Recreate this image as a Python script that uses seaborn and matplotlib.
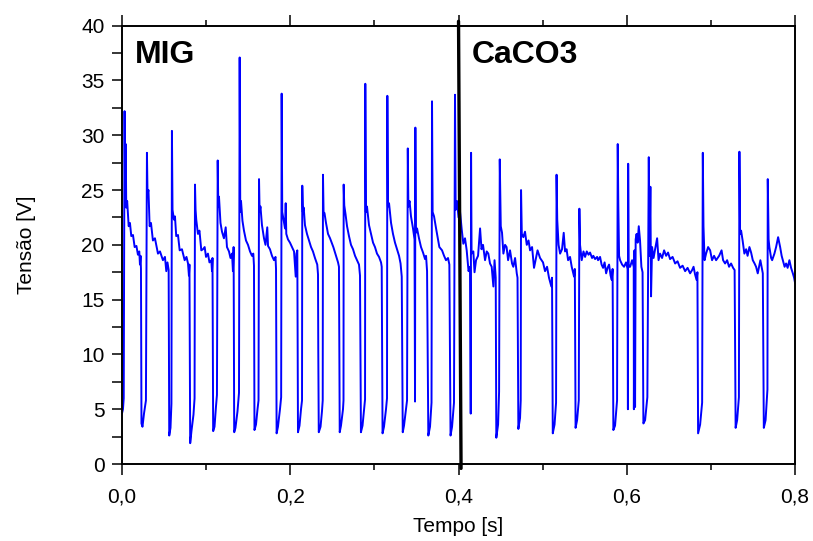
import matplotlib
matplotlib.use("Agg")
import matplotlib.pyplot as plt
from matplotlib.ticker import MultipleLocator, FuncFormatter
import numpy as np
import pandas as pd
import seaborn as sns

# ---- data (time in s, voltage in V) ----
mig_t = [0.0000, 0.0012, 0.0021, 0.0031, 0.0038, 0.0045, 0.0051, 0.0062, 0.0080, 0.0095,
         0.0111, 0.0131, 0.0151, 0.0172, 0.0190, 0.0206, 0.0214, 0.0221, 0.0226,
         0.0232, 0.0244, 0.0262, 0.0285, 0.0297, 0.0304, 0.0315, 0.0329, 0.0345, 0.0368,
         0.0392, 0.0428, 0.0452, 0.0487, 0.0511, 0.0527, 0.0541, 0.0555,
         0.0562, 0.0577, 0.0588, 0.0594, 0.0601, 0.0618, 0.0630, 0.0645, 0.0666, 0.0686,
         0.0713, 0.0745, 0.0767, 0.0785, 0.0796, 0.0802,
         0.0811, 0.0826, 0.0850, 0.0863, 0.0868, 0.0875, 0.0883, 0.0903, 0.0921, 0.0943,
         0.0963, 0.0983, 0.0999, 0.1022, 0.1040, 0.1062, 0.1070, 0.1076,
         0.1084, 0.1100, 0.1117, 0.1129, 0.1138, 0.1145, 0.1153, 0.1171, 0.1189, 0.1212,
         0.1233, 0.1248, 0.1272, 0.1290, 0.1308, 0.1319, 0.1327,
         0.1334, 0.1349, 0.1373, 0.1391, 0.1399, 0.1406, 0.1415, 0.1432, 0.1450, 0.1474,
         0.1498, 0.1522, 0.1545, 0.1561, 0.1569,
         0.1575, 0.1593, 0.1611, 0.1623, 0.1629, 0.1636, 0.1646, 0.1664, 0.1688, 0.1706,
         0.1727, 0.1736, 0.1759, 0.1783, 0.1807, 0.1825, 0.1831,
         0.1838, 0.1854, 0.1878, 0.1892, 0.1898, 0.1905, 0.1920, 0.1938, 0.1946, 0.1953,
         0.1973, 0.1997, 0.2021, 0.2045, 0.2065, 0.2074, 0.2084,
         0.2092, 0.2110, 0.2128, 0.2140, 0.2143, 0.2150, 0.2160, 0.2175, 0.2199, 0.2223,
         0.2247, 0.2270, 0.2294, 0.2321, 0.2330, 0.2333,
         0.2339, 0.2360, 0.2377, 0.2386, 0.2389, 0.2396, 0.2407, 0.2425, 0.2449, 0.2473,
         0.2512, 0.2544, 0.2568, 0.2579,
         0.2588, 0.2603, 0.2627, 0.2633, 0.2635, 0.2642, 0.2657, 0.2675, 0.2698, 0.2722,
         0.2746, 0.2770, 0.2793, 0.2817, 0.2829,
         0.2840, 0.2859, 0.2877, 0.2889, 0.2892, 0.2899, 0.2912, 0.2936, 0.2960, 0.2984,
         0.3007, 0.3031, 0.3055, 0.3079, 0.3087,
         0.3097, 0.3114, 0.3138, 0.3150, 0.3154, 0.3161, 0.3174, 0.3198, 0.3221, 0.3245,
         0.3269, 0.3293, 0.3311, 0.3325,
         0.3337, 0.3352, 0.3376, 0.3388, 0.3397, 0.3404, 0.3418, 0.3435, 0.3459, 0.3477,
         0.3483, 0.3487, 0.3492, 0.3507, 0.3530, 0.3554, 0.3578, 0.3602, 0.3614, 0.3626,
         0.3641, 0.3661, 0.3679, 0.3685, 0.3692, 0.3709, 0.3733, 0.3772, 0.3804, 0.3828,
         0.3851, 0.3875, 0.3891,
         0.3905, 0.3923, 0.3946, 0.3958, 0.3966, 0.3982, 0.4000]
mig_v = [4.6, 5.0, 6.0, 32.2, 24.0, 29.2, 23.4, 24.0, 21.7, 22.0,
         20.8, 20.9, 19.8, 19.9, 19.1, 19.4, 18.2, 19.0, 17.8,
         3.7, 3.4, 4.6, 5.8, 28.4, 24.6, 25.0, 21.7, 22.0, 20.4,
         20.6, 19.2, 19.4, 18.6, 18.9, 17.6, 18.4, 17.7,
         2.6, 3.3, 5.5, 30.4, 23.2, 22.3, 22.6, 20.8, 20.9, 19.5,
         19.6, 18.6, 18.9, 18.3, 17.2, 18.2,
         1.9, 3.0, 4.5, 6.0, 25.5, 23.2, 22.3, 21.0, 21.3, 19.5,
         19.6, 19.8, 18.9, 19.2, 18.4, 18.6, 17.6, 18.8,
         3.0, 3.4, 5.2, 6.3, 27.7, 23.5, 24.4, 22.0, 21.2, 20.6,
         21.6, 19.8, 19.4, 18.8, 19.2, 17.6, 19.8,
         2.9, 3.3, 4.8, 6.5, 37.1, 23.0, 24.0, 22.2, 21.3, 20.4,
         20.0, 19.4, 19.0, 19.2, 18.1,
         3.1, 3.6, 5.0, 5.8, 26.0, 23.0, 23.5, 21.8, 20.6, 20.0,
         21.6, 19.9, 19.6, 19.0, 18.6, 18.9, 17.8,
         2.8, 3.4, 5.0, 6.1, 33.8, 23.0, 22.3, 21.5, 23.8, 21.0,
         20.5, 20.2, 19.8, 19.4, 17.1, 19.2, 19.5,
         2.9, 3.5, 5.0, 5.8, 25.4, 23.0, 23.4, 21.8, 21.0, 20.4,
         19.8, 19.4, 18.8, 18.2, 17.3, 10.6,
         2.9, 3.4, 4.8, 5.8, 26.4, 23.0, 22.9, 22.0, 21.0, 20.6,
         19.8, 19.0, 18.4, 18.0,
         2.9, 3.5, 5.0, 5.8, 25.5, 23.6, 22.8, 21.7, 20.8, 20.0,
         19.6, 19.0, 18.6, 18.2, 17.2,
         2.9, 3.5, 5.0, 5.9, 34.7, 23.0, 23.5, 21.8, 21.0, 20.2,
         19.8, 19.2, 18.9, 18.4, 18.0,
         2.8, 3.4, 5.0, 6.0, 33.6, 23.5, 23.8, 22.0, 21.0, 20.2,
         19.6, 19.0, 18.3, 17.1,
         2.9, 3.5, 5.0, 5.8, 28.8, 23.5, 24.0, 22.6, 21.5, 20.5,
         5.7, 30.7, 21.1, 21.5, 20.6, 19.8, 19.3, 18.7, 19.0, 17.6,
         2.6, 3.4, 5.6, 33.1, 23.0, 22.6, 21.5, 19.8, 19.5, 19.0,
         18.6, 18.8, 18.2,
         2.6, 3.4, 5.6, 33.7, 23.2, 24.0, 22.5]

caco3_t = [0.4000, 0.4018, 0.4038, 0.4057, 0.4077, 0.4097, 0.4119, 0.4137,
           0.4145, 0.4149, 0.4155, 0.4176, 0.4190, 0.4208, 0.4232, 0.4256, 0.4273, 0.4291,
           0.4315, 0.4335, 0.4354, 0.4374, 0.4394, 0.4414, 0.4428, 0.4442,
           0.4449, 0.4470, 0.4482, 0.4490, 0.4502, 0.4517, 0.4533, 0.4553, 0.4571, 0.4589,
           0.4612, 0.4636, 0.4651, 0.4672, 0.4692, 0.4701,
           0.4711, 0.4731, 0.4739, 0.4743, 0.4752, 0.4770, 0.4790, 0.4811, 0.4832, 0.4850,
           0.4874, 0.4897, 0.4939, 0.4969, 0.5004, 0.5028, 0.5052, 0.5075, 0.5103, 0.5111,
           0.5120, 0.5141, 0.5159, 0.5165, 0.5173, 0.5189, 0.5207, 0.5230, 0.5250, 0.5266,
           0.5284, 0.5302, 0.5325, 0.5345, 0.5373, 0.5382,
           0.5391, 0.5409, 0.5429, 0.5436, 0.5444, 0.5464, 0.5485, 0.5504, 0.5524, 0.5545,
           0.5563, 0.5587, 0.5602, 0.5623, 0.5647, 0.5658, 0.5682, 0.5700, 0.5718, 0.5736,
           0.5754, 0.5771, 0.5789, 0.5807, 0.5821, 0.5831,
           0.5840, 0.5860, 0.5884, 0.5892, 0.5899, 0.5908, 0.5920, 0.5944, 0.5967, 0.5991,
           0.6009, 0.6013, 0.6016, 0.6022, 0.6039, 0.6063, 0.6082, 0.6084, 0.6091, 0.6098,
           0.6105, 0.6116, 0.6128, 0.6142, 0.6157, 0.6173, 0.6187,
           0.6197, 0.6217, 0.6244, 0.6261, 0.6270, 0.6280, 0.6288, 0.6300, 0.6318, 0.6336,
           0.6360, 0.6377, 0.6395, 0.6419, 0.6443, 0.6467, 0.6490, 0.6514, 0.6544, 0.6574,
           0.6603, 0.6633, 0.6663, 0.6693, 0.6722, 0.6752, 0.6776, 0.6793, 0.6811, 0.6829,
           0.6839,
           0.6847, 0.6871, 0.6895, 0.6903, 0.6911, 0.6924, 0.6942, 0.6966, 0.6990, 0.7013,
           0.7037, 0.7061, 0.7097, 0.7126, 0.7144, 0.7168, 0.7192, 0.7215, 0.7239, 0.7263,
           0.7281,
           0.7293, 0.7311, 0.7332, 0.7338, 0.7346, 0.7358, 0.7376, 0.7397, 0.7418, 0.7435,
           0.7457, 0.7477, 0.7497, 0.7518, 0.7536, 0.7556, 0.7572, 0.7587, 0.7601, 0.7616,
           0.7628, 0.7649, 0.7671, 0.7675, 0.7685, 0.7694, 0.7715, 0.7727, 0.7754, 0.7774,
           0.7798, 0.7822, 0.7840, 0.7854, 0.7875, 0.7893, 0.7911, 0.7932, 0.7952, 0.7973,
           0.7988, 0.8000]
caco3_v = [22.5, 23.0, 21.4, 20.1, 20.6, 19.5, 17.6, 18.0,
           4.6, 28.4, 19.2, 19.4, 17.5, 18.6, 19.0, 21.5, 19.6, 20.0,
           18.6, 19.4, 19.2, 18.3, 18.0, 16.2, 18.6, 17.0,
           2.4, 3.6, 6.6, 27.8, 21.7, 21.1, 19.2, 20.0, 19.8, 18.6,
           19.5, 18.3, 18.0, 18.8, 17.4, 17.0,
           3.2, 4.2, 5.8, 25.0, 21.0, 20.7, 21.2, 20.0, 20.4, 19.5,
           19.8, 17.9, 19.5, 18.8, 18.4, 17.6, 18.0, 17.0, 16.2, 17.0,
           2.8, 3.6, 5.6, 26.4, 22.3, 20.0, 19.2, 19.6, 21.1, 19.4,
           19.6, 18.6, 18.9, 18.0, 17.1, 17.8,
           3.3, 4.0, 5.8, 23.3, 20.0, 18.6, 19.4, 18.9, 19.4, 19.1,
           19.3, 18.8, 19.0, 18.7, 18.9, 18.6, 18.9, 18.2, 17.9, 18.4,
           17.4, 17.9, 18.2, 17.2, 16.8, 17.8,
           3.1, 3.5, 5.8, 29.2, 23.6, 19.0, 18.6, 18.2, 18.0, 18.4,
           17.8, 5.0, 27.4, 18.0, 18.0, 18.6, 18.0, 5.0, 19.5, 5.2,
           20.5, 21.0, 20.2, 21.7, 20.4, 18.0, 17.5,
           3.7, 4.0, 6.1, 28.0, 19.0, 25.3, 15.3, 19.8, 18.8, 19.6,
           20.6, 18.6, 19.2, 18.8, 19.5, 19.0, 19.3, 18.7, 18.9, 18.3,
           18.5, 17.9, 18.1, 17.6, 17.9, 17.4, 17.7, 18.0, 17.3, 16.8,
           17.5,
           2.8, 3.6, 5.6, 28.4, 21.7, 18.6, 19.2, 19.8, 19.5, 18.6,
           19.0, 18.6, 19.0, 19.5, 18.6, 18.3, 18.6, 18.0, 18.3, 17.9,
           17.7,
           3.3, 4.0, 6.1, 28.5, 21.0, 21.3, 20.4, 19.2, 19.6, 19.0,
           19.8, 19.3, 18.6, 18.3, 18.0, 17.4, 18.0, 18.6, 18.0, 17.4,
           3.3, 4.0, 6.8, 26.0, 20.5, 19.8, 18.8, 18.6, 19.2, 19.8,
           20.7, 19.8, 19.0, 18.6, 18.0, 18.3, 17.9, 18.6, 17.9, 17.4,
           17.0, 16.5]

x_ticks = [0.0, 0.2, 0.4, 0.6, 0.8]
y_ticks = [0, 5, 10, 15, 20, 25, 30, 35, 40]
section_labels = ["MIG", "CaCO3"]

# ---- figure ----
sns.set_theme(style="ticks")
plt.rcParams["font.family"] = ["Liberation Sans", "DejaVu Sans"]
for k in ["text.color", "axes.labelcolor", "xtick.color", "ytick.color", "axes.edgecolor"]:
    plt.rcParams[k] = "black"

fig = plt.figure(figsize=(8.13, 5.41), dpi=100)
ax = fig.add_axes([0.150, 0.1423, 0.828, 0.8102])

df = pd.DataFrame({"t": mig_t + caco3_t, "v": mig_v + caco3_v})
sns.lineplot(data=df, x="t", y="v", sort=False, estimator=None,
             color="#0000ff", linewidth=1.4, ax=ax)

ax.set_xlim(0, 0.8)
ax.set_ylim(0, 40)

# separator line between the two records
ax.plot([0.4000, 0.4030], [40.4, -0.4], color="black", linewidth=2.4,
        clip_on=False, zorder=5)

ax.text(0.0151, 36.6, section_labels[0], fontsize=23, fontweight="bold",
        ha="left", va="baseline", color="black")
ax.text(0.4157, 36.6, section_labels[1], fontsize=23, fontweight="bold",
        ha="left", va="baseline", color="black")

ax.set_xticks(x_ticks)
ax.set_yticks(y_ticks)
ax.xaxis.set_minor_locator(MultipleLocator(0.1))
ax.yaxis.set_minor_locator(MultipleLocator(2.5))
ax.xaxis.set_major_formatter(FuncFormatter(lambda x, p: f"{x:.1f}".replace(".", ",")))
ax.yaxis.set_major_formatter(FuncFormatter(lambda y, p: f"{int(round(y))}"))

ax.tick_params(axis="x", which="major", direction="out", labelsize=15, pad=9,
               length=8, width=1.1, top=True)
ax.tick_params(axis="x", which="minor", direction="out", length=4.5, width=1.1, top=True)
ax.tick_params(axis="y", which="major", direction="out", labelsize=15, pad=5,
               length=7.5, width=1.1, right=False)
ax.tick_params(axis="y", which="minor", direction="out", length=7.5, width=1.1, right=False)

for s in ax.spines.values():
    s.set_visible(True)
    s.set_linewidth(1.4)
    s.set_color("black")

ax.set_xlabel("Tempo [s]", fontsize=15)
ax.set_ylabel("Tensão [V]", fontsize=15)
ax.xaxis.set_label_coords(0.499, -0.121)
ax.yaxis.set_label_coords(-0.128, 0.5)

fig.savefig("out.png", dpi=100)
